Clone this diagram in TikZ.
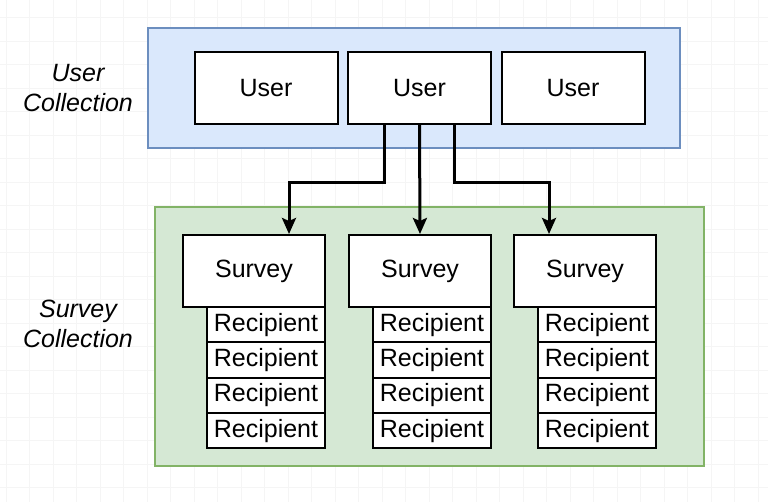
\documentclass[tikz,border=0pt]{standalone}
\usepackage{fontspec}
\setmainfont{Liberation Sans}
\usetikzlibrary{arrows.meta}
\definecolor{bluefill}{HTML}{DAE8FC}
\definecolor{blueline}{HTML}{6C8EBF}
\definecolor{greenfill}{HTML}{D5E8D4}
\definecolor{greenline}{HTML}{82B366}
\tikzset{
  txt/.style={font=\fontsize{25}{30}\selectfont},
  box/.style={draw=black, line width=2pt, fill=white, inner sep=0pt, txt, anchor=north west},
  userbox/.style={box, minimum width=143pt, minimum height=72pt},
  surveybox/.style={box, minimum width=142pt, minimum height=72pt},
  recbox/.style={box, minimum width=118pt, minimum height=35.3pt},
  container/.style={line width=2pt, inner sep=0pt, anchor=north west},
  lab/.style={font=\fontsize{25}{30}\selectfont\itshape, align=center},
  arr/.style={line width=3pt, -{Stealth[length=16pt,width=14pt,inset=3pt]}},
  gridline/.style={black!4, line width=0.7pt}
}
\begin{document}
\begin{tikzpicture}[x=1pt,y=-1pt]
\useasboundingbox (0,0) rectangle (768,502);
\fill[white] (0,0) rectangle (768,502);
% faint grid
\foreach \x in {6,29.5,...,768} \draw[gridline] (\x,0) -- (\x,502);
\foreach \y in {17.5,41,...,502} \draw[gridline] (0,\y) -- (768,\y);
% containers
\node[container, draw=blueline, fill=bluefill, minimum width=532pt, minimum height=120pt] (ucoll) at (147,27) {};
\node[container, draw=greenline, fill=greenfill, minimum width=549pt, minimum height=259pt] (scoll) at (154,206) {};
% labels
\node[lab] (ulab) at (78,88) {User\\Collection};
\node[lab] (slab) at (78,324) {Survey\\Collection};
% users
\node[userbox] (u1) at (193.5,51) {User};
\node[userbox] (u2) at (347,51) {User};
\node[userbox] (u3) at (500.5,51) {User};
% surveys
\node[surveybox] (s1) at (182,234) {Survey};
\node[surveybox] (s2) at (348,234) {Survey};
\node[surveybox] (s3) at (513,234) {Survey};
% recipients
\foreach \s/\x in {1/206,2/372,3/537}{
  \foreach \r in {0,1,2,3}{
    \node[recbox] (r\s\r) at (\x,306+35.3*\r) {Recipient};
  }
}
% arrows
\draw[arr] ([xshift=37.6pt]u2.south west) -- ++(0,57.3) -| ([xshift=107pt]s1.north west);
\draw[arr] (u2.south) -- (s2.north);
\draw[arr] ([xshift=107pt]u2.south west) -- ++(0,57.3) -| ([xshift=36pt]s3.north west);
\end{tikzpicture}
\end{document}
